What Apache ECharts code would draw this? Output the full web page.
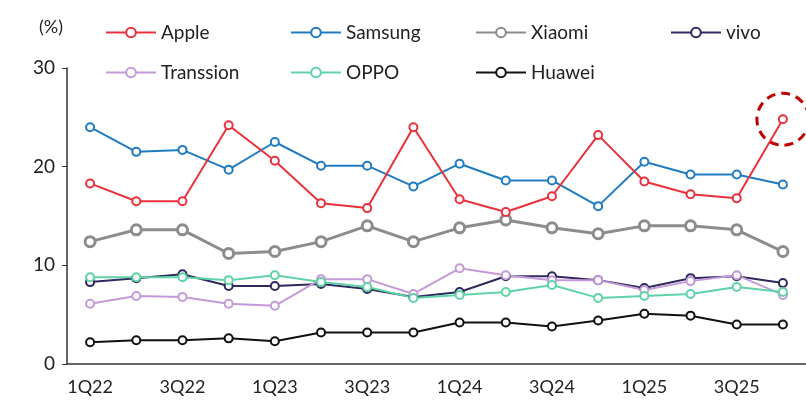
<!DOCTYPE html>
<html><head><meta charset="utf-8">
<script src="https://cdn.jsdelivr.net/npm/echarts@6/dist/echarts.min.js"></script>
<style>body{margin:0}#c{width:806px;height:412px}</style>
</head><body><div id="c"></div>
<script>
const quarters = ["1Q22","2Q22","3Q22","4Q22","1Q23","2Q23","3Q23","4Q23","1Q24","2Q24","3Q24","4Q24","1Q25","2Q25","3Q25","4Q25"]
const apple = [18.3,16.5,16.5,24.2,20.6,16.3,15.8,24.0,16.7,15.4,17.0,23.2,18.5,17.2,16.8,24.8]
const samsung = [24.0,21.5,21.7,19.7,22.5,20.1,20.1,18.0,20.3,18.6,18.6,16.0,20.5,19.2,19.2,18.2]
const xiaomi = [12.4,13.6,13.6,11.2,11.4,12.4,14.0,12.4,13.8,14.6,13.8,13.2,14.0,14.0,13.6,11.4]
const vivo = [8.3,8.7,9.1,7.9,7.9,8.1,7.6,6.8,7.3,8.9,8.9,8.5,7.7,8.7,8.9,8.2]
const transsion = [6.1,6.9,6.8,6.1,5.9,8.6,8.6,7.1,9.7,9.0,8.5,8.5,7.5,8.4,9.0,7.0]
const oppo = [8.8,8.8,8.8,8.5,9.0,8.3,7.8,6.7,7.0,7.3,8.0,6.7,6.9,7.1,7.8,7.3]
const huawei = [2.2,2.4,2.4,2.6,2.3,3.2,3.2,3.2,4.2,4.2,3.8,4.4,5.1,4.9,4.0,4.0]

const font = "Lato"
const chart = echarts.init(document.getElementById("c"))

function line(name,data,color,w,size){
return {
name:name,type:"line",data:data,symbol:"circle",symbolSize:size||8,
lineStyle:{color:color,width:w||2},
itemStyle:{color:"#fff",borderColor:color,borderWidth:w||2},
z:name=="Apple"?5:3
}
}

const legendPos = [
["Apple",100,18],["Samsung",285,18],["Xiaomi",470,18],["vivo",665,18],
["Transsion",100,58],["OPPO",285,58],["Huawei",470,58]
]

const series = [
line("Apple",apple,"#e8323c"),
line("Samsung",samsung,"#1f7cc1"),
line("Xiaomi",xiaomi,"#8c8c8c",3,10),
line("vivo",vivo,"#2f2a5e"),
line("Transsion",transsion,"#c49ad8"),
line("OPPO",oppo,"#5fd3a6"),
line("Huawei",huawei,"#111111")
]
series[0].markPoint = {
symbol:"circle",symbolSize:52,silent:true,
itemStyle:{color:"transparent",borderColor:"#c00000",borderWidth:3,borderType:[9,6]},
label:{show:false},
data:[{coord:["4Q25",24.8]}]
}

chart.setOption({
animation:false,
legend:legendPos.map(p => ({
data:[p[0]],left:p[1],top:p[2],itemWidth:50,itemHeight:12,itemGap:0,
textStyle:{fontFamily:font,fontSize:19,color:"#222"}
})),
grid:{left:67,top:68,bottom:48,right:-23},
xAxis:{
type:"category",data:quarters,boundaryGap:true,
axisLine:{lineStyle:{color:"#333",width:1.5}},
axisTick:{show:false},
axisLabel:{interval:1,fontFamily:font,fontSize:18,color:"#222",margin:14}
},
yAxis:{
type:"value",min:0,max:30,interval:10,name:"(%)",
nameLocation:"end",nameGap:32,nameTextStyle:{fontFamily:font,fontSize:18,color:"#222",align:"right",padding:[0,4,0,0]},
axisLine:{show:true,lineStyle:{color:"#333",width:1.5}},
axisTick:{show:true,length:5,inside:false},
splitLine:{show:false},
axisLabel:{fontFamily:font,fontSize:19,color:"#222",margin:12}
},
series:series
})
</script></body></html>
